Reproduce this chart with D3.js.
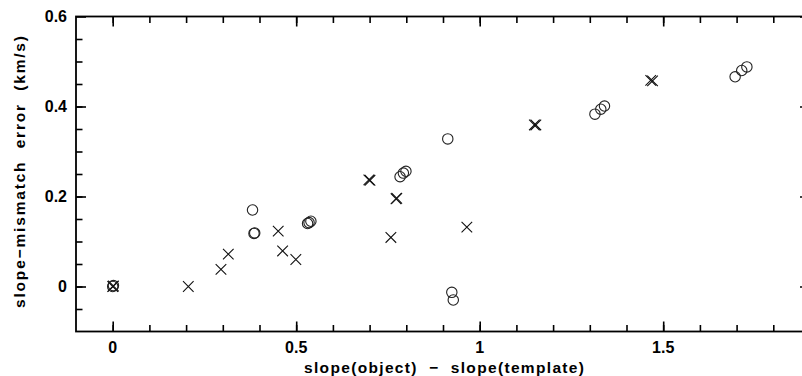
<!DOCTYPE html>
<html>
<head>
<meta charset="utf-8">
<script src="https://cdn.jsdelivr.net/npm/d3@7"></script>
<style>
  html, body { margin: 0; padding: 0; background: #fff; }
  svg { display: block; }
  text { font-family: "Liberation Sans", Arial, Helvetica, sans-serif; font-weight: bold; fill: #000; }
</style>
</head>
<body>
<svg id="chart" width="802" height="376"></svg>
<script>
// ---- data ----
const crossX = [0, 0.002, 0.206, 0.295, 0.315, 0.451, 0.463, 0.499, 0.698, 0.701, 0.758, 0.772, 0.774, 0.965, 1.149, 1.153, 1.466, 1.471];
const crossY = [0, 0.001, 0.000, 0.038, 0.072, 0.123, 0.079, 0.060, 0.237, 0.236, 0.109, 0.195, 0.196, 0.132, 0.359, 0.359, 0.458, 0.457];
const circleX = [0, 0.002, 0.381, 0.385, 0.387, 0.531, 0.535, 0.540, 0.783, 0.792, 0.799, 0.913, 0.924, 0.928, 1.314, 1.330, 1.340, 1.696, 1.714, 1.728];
const circleY = [0, 0.002, 0.170, 0.118, 0.119, 0.140, 0.142, 0.145, 0.244, 0.252, 0.256, 0.328, -0.013, -0.030, 0.383, 0.394, 0.401, 0.466, 0.480, 0.488];
const xMajorTicks = [0, 0.5, 1, 1.5];
const xTickLabels = ["0", "0.5", "1", "1.5"];
const yMajorTicks = [0, 0.2, 0.4, 0.6];
const yTickLabels = ["0", "0.2", "0.4", "0.6"];
const xMinorTicks = d3.range(-1, 19).map(i => i / 10).filter(v => v > -0.1);
const yMinorTicks = d3.range(-1, 12).map(i => i * 0.05).filter(v => v > -0.1 && v < 0.6);
const xLabel = "slope(object)  \u2212  slope(template)";
const yLabel = "slope\u2212mismatch  error  (km/s)";

// ---- layout ----
const svg = d3.select("#chart");
const pL = 76, pR = 810, pT = 16.5, pB = 331.5;
const x = d3.scaleLinear().domain([-0.1, 1.9]).range([pL, pR]);
const y = d3.scaleLinear().domain([-0.1, 0.6]).range([pB, pT]);
const majorLen = 10, minorLen = 6.5;

const g = svg.append("g");

function styleAxis(sel) {
  sel.select(".domain").remove();
  sel.selectAll(".tick line").attr("stroke", "#000").attr("stroke-width", 1.6);
  sel.selectAll(".tick text").remove();
}

// bottom
g.append("g").attr("transform", `translate(0,${pB})`)
  .call(d3.axisBottom(x).tickValues(xMinorTicks).tickSize(-minorLen)).call(styleAxis);
g.append("g").attr("transform", `translate(0,${pB})`)
  .call(d3.axisBottom(x).tickValues(xMajorTicks).tickSize(-majorLen)).call(styleAxis);
// top
g.append("g").attr("transform", `translate(0,${pT})`)
  .call(d3.axisTop(x).tickValues(xMinorTicks).tickSize(-minorLen)).call(styleAxis);
g.append("g").attr("transform", `translate(0,${pT})`)
  .call(d3.axisTop(x).tickValues(xMajorTicks).tickSize(-majorLen)).call(styleAxis);
// left
g.append("g").attr("transform", `translate(${pL},0)`)
  .call(d3.axisLeft(y).tickValues(yMinorTicks).tickSize(-minorLen)).call(styleAxis);
g.append("g").attr("transform", `translate(${pL},0)`)
  .call(d3.axisLeft(y).tickValues(yMajorTicks).tickSize(-majorLen)).call(styleAxis);
// right
g.append("g").attr("transform", `translate(${pR},0)`)
  .call(d3.axisRight(y).tickValues(yMinorTicks).tickSize(-minorLen)).call(styleAxis);
g.append("g").attr("transform", `translate(${pR},0)`)
  .call(d3.axisRight(y).tickValues(yMajorTicks).tickSize(-majorLen)).call(styleAxis);

// frame
g.append("rect").attr("x", pL).attr("y", pT).attr("width", pR - pL).attr("height", pB - pT)
  .attr("fill", "none").attr("stroke", "#000").attr("stroke-width", 1.8);

// tick labels
g.selectAll(".xl").data(xMajorTicks).enter().append("text")
  .attr("x", d => x(d)).attr("y", 353).attr("text-anchor", "middle")
  .style("font-size", "16px").text((d, i) => xTickLabels[i]);
g.selectAll(".yl").data(yMajorTicks).enter().append("text")
  .attr("x", 67).attr("y", d => y(d) + 5.8).attr("text-anchor", "end")
  .style("font-size", "16px").text((d, i) => yTickLabels[i]);

// axis titles
g.append("text").attr("x", 444).attr("y", 373).attr("text-anchor", "middle")
  .style("font-size", "15.5px").attr("textLength", 280).attr("lengthAdjust", "spacing")
  .attr("xml:space", "preserve").text(xLabel);
g.append("text").attr("transform", `translate(25,172) rotate(-90)`).attr("text-anchor", "middle")
  .style("font-size", "15.5px").attr("textLength", 272).attr("lengthAdjust", "spacing")
  .attr("xml:space", "preserve").text(yLabel);

// markers
const r = 5.2, h = 5.3;
const crosses = g.append("g");
crossX.forEach((cx, i) => {
  const px = x(cx), py = y(crossY[i]);
  crosses.append("path")
    .attr("d", `M${px - h},${py - h}L${px + h},${py + h}M${px - h},${py + h}L${px + h},${py - h}`)
    .attr("stroke", "#111").attr("stroke-width", 1.1).attr("fill", "none");
});
const circles = g.append("g");
circleX.forEach((cx, i) => {
  circles.append("circle").attr("cx", x(cx)).attr("cy", y(circleY[i])).attr("r", r)
    .attr("fill", "none").attr("stroke", "#222").attr("stroke-width", 1.1);
});
</script>
</body>
</html>
